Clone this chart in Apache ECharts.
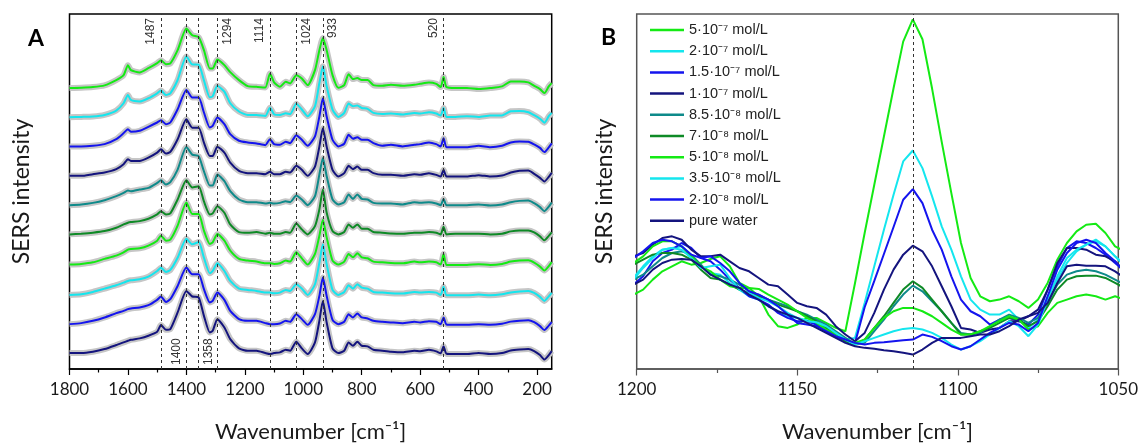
<!DOCTYPE html>
<html><head><meta charset="utf-8">
<script src="https://cdn.jsdelivr.net/npm/echarts@6/dist/echarts.min.js"></script>
<style>html,body{margin:0;padding:0;background:#fff}#c{width:1142px;height:448px}</style>
</head><body><div id="c"></div>
<script>
// ---------- Panel A data ----------
const wavenumbersA = [1800,1760,1720,1680,1640,1615,1600,1590,1560,1530,1500,1487,1470,1455,1430,1400,1380,1358,1340,1320,1310,1294,1270,1250,1220,1190,1160,1130,1114,1100,1080,1060,1045,1024,1005,985,960,945,933,920,900,880,860,845,830,815,800,780,760,730,700,660,620,600,570,545,530,520,510,480,440,400,360,320,290,260,230,210,190,175,160,150];
// vertical stacking offset of each spectrum (arbitrary units)
const offsetsA = [281.7,252.5,223.2,193.7,164.3,135,104.7,74.3,45,16];
const specA_5e7 = [0,0.3,1,2.7,8,13,23,18,15.7,20, 25,28,24,24.7,38,59.7,53,51,38,19.7, 19.7,28.7,23,16,8,2,1.3,0.7,14.7,5.7, 1.3,6.3,4.7,13,9.7,3,18,38,50.3,38, 13,0.3,3,14,9,10,8,8,3,2.3, 3.3,2.3,3.3,4.3,5.7,4.3,1,11,1,0, 0,-1,0,1.7,6.7,6.7,5.7,2.3,-1,-5,1.7,5];
const specA_2e7 = [0,0.3,0.7,2.3,6.7,14,22.3,17.3,15.7,19, 24,26.7,22.3,24,37.3,61,53,52.7,37,20, 21,31.5,25.7,14,5.7,2.3,2.3,1.3,9.5,3, 2.3,4,3,13.5,7.7,1,11,34.3,51,31, 7.7,0.3,4.3,13.7,11,11.7,9.3,8.3,4.3,3.3, 3.7,2.7,4.3,3.7,5,3.7,1.7,9.3,0.3,0.3, 1,0.3,1.7,1.7,6,6.3,5,2,-1.5,-5.5,1,4.3];
const specA_15e7 = [0,0,0.7,2.3,7.3,13.3,17.3,14.7,15.7,19.7, 24,26.3,22.3,24,37.3,56.7,49,49,34,19, 20.7,29,22.3,12.3,5.7,4,3,1.3,7.3,2.3, 1.7,4.7,3.3,11.3,6.7,0.7,10,30,48.3,30, 6.7,0,2.7,11.7,7.7,9.3,6.7,6.7,3.3,0.7, 1.7,0,1.7,2.3,4,2.3,0,8.3,-0.7,-0.7, -0.7,0.7,-0.7,0.7,4,5,4.7,2,-1.5,-5.7,-1,3];
const specA_1e7 = [0,0,1.7,3.3,6.7,11.7,16.7,15,15,18.3, 23.3,26.7,22.3,24,36.7,56.7,48.3,48.3,33.3,20, 20,29.3,23.3,13.3,5,2.7,2.7,1.7,4,1.7, 1.7,4,3.3,10,6,0,9.3,29.3,47.7,29.3, 6,-0.7,2.7,10,6.7,9.3,6,6,2.7,1, 1,0,1.7,1,2.7,1,-0.7,6,-0.7,-0.7, -0.7,0.7,-0.7,0.3,3.3,5,5.3,2,-2,-5.7,-1,3];
const specA_85e8 = [0,0.7,2.3,5,9,12.3,14.7,14,15.7,17.3, 22.3,25,20.7,23,35.7,58.3,50.7,49,34,19.7, 19.7,30.7,24,14,5.7,3,3,1.7,2.3,1.7, 2.3,4,3,9.7,5.7,0,9,30.7,47.3,29, 5.7,0.7,3,10.7,6.3,10.7,6.3,5.7,2.3,1.7, 1.7,0.7,3,2.3,3,1.7,0,6.3,0,0, 0,0.7,-0.3,0.7,3,4.3,4.7,2,-2,-6,-1.5,2.5];
const specA_7e8 = [0,0.7,1.7,3.3,6.7,10,11.7,12.3,13.3,15.7, 20,23.3,20,21,35,54.3,47,48.3,33,20, 21,28.3,21.7,10,2.3,1.7,2.3,0.7,1.7,0.7, 0.7,2.3,1.7,11,5,0,8.3,25,45,21.7, 3.3,0,2.3,10,6.7,10,5.7,5.7,2.3,1.7, 1,0.7,1.7,1.7,2.3,1.7,0,7.7,0,0.7, 0.7,0.7,0,0.7,3,4,4,2,-2,-6,-1.5,2];
const specA_5e8 = [0,0.7,2.3,5.7,9,12.3,15,15.7,16.3,19, 24,29,24,25,39,62.3,50.7,50.7,34,20.7, 22.3,30.7,24,14,5.7,4,3,1.3,1.3,0.7, 1.3,4,3,12.3,6.3,0,10.7,29,45,27.3, 4,0,3,10.7,7.3,11.3,7.3,6.3,3,2.3, 1.7,1.3,3,2.3,3,2.3,0,10.7,-0.3,-0.3, -0.3,0.3,-0.3,0.7,3,4,4.3,2,-2,-6,-1.5,2.5];
const specA_35e8 = [0,0.7,3,6.3,9.7,12.3,14,14.7,15.7,18.3, 24,27.3,23,25,37.3,56.3,50.7,53,37.3,21.7, 24,31.7,24,14,6.3,5,4,2.3,2.3,1.7, 2.3,5,4,10.7,6.3,0,10.7,32.3,50.7,30.7, 5,0,3,9.7,6.3,10.7,7.3,6.3,3,2.3, 1.7,1.3,3,2.3,3,2.3,0,8.3,-0.3,-0.3, -0.3,0.3,-0.3,0.7,2.5,3.5,4,2,-2,-6,-1.5,2];
const specA_2e8 = [0,1,3.3,6.7,11,13.3,15,15.7,16.7,19, 24.3,27.7,22.3,25,38.3,56.7,50,50,35,21.7, 23.3,31.7,24.3,13.3,5,3.3,3.3,1,0,0, 0.7,3.3,2.3,10,5,-0.7,10,28.3,46.7,28.3, 4.3,0,2.3,10,6.7,10.7,6.7,5.7,3.3,2.3, 1.7,1,2.3,1.7,3,2.3,0,6.7,-0.3,-0.7, -0.7,0,-0.7,0.3,2.5,3.5,4,2,-2,-6,-1.5,2];
const specA_water = [0,0,1.3,4,8,10.7,12.3,13.3,14.7,17.3, 21.3,28,23.3,24,40.7,62.3,56.7,55.7,37.3,20.7, 22.3,34,25.7,14,4.7,2.3,2.3,0,-1,0, 0.7,3.3,2.3,11.3,4.7,-1,10.7,32.3,52.3,30.7, 4.7,0,2.3,10.7,7.3,11.3,7.3,6.7,3.3,2.3, 1.3,0.7,2.3,1.7,3.3,1.7,-0.3,6.7,-0.7,-1, -1,0,-1,0,2.5,3.5,4,2,-2,-6.5,-2,2];
const aTickLabels = [1800,1600,1400,1200,1000,800,600,400,200];
const aMinorTicks = [1700,1500,1300,1100,900,700,500,300];
const peakLines = [1487,1400,1358,1294,1114,1024,933,520];

// ---------- Panel B data ----------
const wavenumbersB = [1201,1198,1195,1192,1189,1186,1183,1180,1177,1174,1171,1168,1165,1162,1159,1156,1153,1150,1147,1144,1141,1138,1135,1132,1129,1126,1123,1120,1117,1114,1111,1108,1105,1102,1099,1096,1093,1090,1087,1084,1081,1078,1075,1072,1069,1066,1063,1060,1057,1054,1051,1048];
const specB_5e7 = [215,230,260,285,300,315,305,310,322,330, 300,250,235,210,155,120,115,125,145,145, 130,115,105,250,400,545,690,835,975,1042, 982,834,674,520,370,265,210,195,200,210, 195,175,200,250,320,370,405,425,428,400, 360,345];
const specB_2e7 = [265,300,330,350,355,360,335,300,280,275, 250,230,210,200,180,165,150,145,138,125, 105,90,80,85,190,300,410,515,615,648, 595,510,420,350,270,200,170,155,155,170, 140,115,140,210,260,310,345,365,375,360, 330,300];
const specB_15e7 = [245,270,315,340,350,370,355,325,315,290, 260,235,210,200,185,160,145,135,135,125, 105,90,75,70,177,256,337,418,500,532, 490,410,350,270,200,165,150,125,140,145, 135,125,155,230,300,355,375,370,355,335, 310,285];
const specB_1e7 = [330,340,365,385,390,380,350,330,330,335, 315,295,285,265,245,240,215,190,180,175, 155,120,95,75,100,160,230,290,335,362, 345,300,240,180,115,110,100,110,115,135, 135,150,170,230,310,355,355,350,335,330, 315,285];
const specB_85e8 = [260,275,300,325,340,345,335,305,275,270, 260,245,225,215,200,190,180,165,155,140, 125,105,85,65,70,105,140,180,215,242, 225,195,165,130,100,95,100,120,140,155, 145,130,145,190,245,275,285,290,285,275, 260,245];
const specB_7e8 = [305,320,335,340,340,335,320,290,265,260, 245,230,220,210,200,185,175,165,150,135, 115,95,75,65,80,115,150,190,230,255, 235,200,165,130,95,95,105,115,130,145, 140,120,135,180,230,260,270,272,272,265, 250,235];
const specB_5e8 = [310,330,360,375,375,360,330,300,285,260, 240,235,235,232,215,200,185,165,145,130, 110,95,80,70,80,115,145,165,175,175, 165,150,130,110,95,95,105,120,135,150, 140,110,120,160,190,200,210,215,210,200, 210,200];
const specB_35e8 = [260,295,325,350,355,350,325,295,300,305, 265,230,220,205,195,180,160,145,135,132, 120,100,80,65,75,85,95,105,112,115, 110,100,85,65,50,60,75,95,115,135, 120,90,125,200,270,325,350,365,380,360, 330,305];
const specB_2e8 = [325,345,370,380,375,360,335,325,330,310, 285,250,225,215,200,180,155,130,125,120, 105,90,80,70,65,70,72,75,78,80, 95,88,75,60,50,60,80,100,115,130, 125,105,130,210,290,340,370,380,370,340, 315,280];
const specB_water = [245,260,290,310,320,322,320,300,275,260, 245,235,215,200,180,165,155,145,130,115, 100,85,70,60,55,52,48,45,40,35, 50,70,85,85,85,90,95,95,105,120, 140,150,160,190,250,300,305,302,302,300, 285,265];
const bTickLabels = [1200,1150,1100,1050];
const bMinorTicks = [1175,1125,1075];
const bPeakLine = [1114];

const seriesNames = ['5·10⁻⁷ mol/L','2·10⁻⁷ mol/L','1.5·10⁻⁷ mol/L','1·10⁻⁷ mol/L','8.5·10⁻⁸ mol/L','7·10⁻⁸ mol/L','5·10⁻⁸ mol/L','3.5·10⁻⁸ mol/L','2·10⁻⁸ mol/L','pure water'];

// ---------- styling ----------
const colors = ['#14ea14','#14e6ee','#1414ee','#14147e','#0e8a8a','#0e8a26','#14ea14','#14e6ee','#1414ee','#14147e'];
const spectraA = [specA_5e7,specA_2e7,specA_15e7,specA_1e7,specA_85e8,specA_7e8,specA_5e8,specA_35e8,specA_2e8,specA_water];
const spectraB = [specB_5e7,specB_2e7,specB_15e7,specB_1e7,specB_85e8,specB_7e8,specB_5e8,specB_35e8,specB_2e8,specB_water];
const labelSide = {1487:'insideEndTop',1400:'insideStartTop',1358:'insideStartBottom',1294:'insideEndBottom',1114:'insideEndTop',1024:'insideEndBottom',933:'insideEndBottom',520:'insideEndTop'};
const FONT = 'Lato, "Open Sans", sans-serif';
const TXT = '#1a1a1a';
const plain = v => String(v);

const series = [];
spectraA.forEach((arr, j) => {
  const s = {
    type:'line', name:'bandA'+j, xAxisIndex:0, yAxisIndex:0, symbol:'none', smooth:0.2,
    data: wavenumbersA.map((w,i)=>[w, offsetsA[j] + arr[i]]),
    lineStyle:{color:'#c6c6c6', width:6}, itemStyle:{color:'#c6c6c6'}, z:1, silent:true, animation:false
  };
  if (j === 0) {
    s.markLine = {
      silent:true, symbol:['none','none'], animation:false,
      lineStyle:{type:[3,3], color:'#333', width:1},
      label:{fontFamily:'"Liberation Sans", Arial, sans-serif', fontSize:12, color:'#333', distance:4},
      data: peakLines.map(v => ({xAxis:v, label:{formatter:String(v), position:labelSide[v]}}))
    };
  }
  series.push(s);
});
spectraA.forEach((arr, j) => {
  series.push({
    type:'line', name:'A '+seriesNames[j], xAxisIndex:0, yAxisIndex:0, symbol:'none', smooth:0.2,
    data: wavenumbersA.map((w,i)=>[w, offsetsA[j] + arr[i]]),
    color: colors[j], lineStyle:{color:colors[j], width:2}, z:3, silent:true, animation:false
  });
});
spectraB.forEach((arr, j) => {
  const s = {
    type:'line', name:seriesNames[j], xAxisIndex:2, yAxisIndex:1, symbol:'none',
    data: wavenumbersB.map((w,i)=>[w, arr[i]]),
    color: colors[j], lineStyle:{color:colors[j], width:2}, z:3, silent:true, animation:false
  };
  if (j === 0) {
    s.markLine = {
      silent:true, symbol:['none','none'], animation:false, label:{show:false},
      lineStyle:{type:[3,3], color:'#333', width:1},
      data: bPeakLine.map(v => ({xAxis:v}))
    };
  }
  series.push(s);
});

const option = {
  animation:false,
  backgroundColor:'#fff',
  grid:[
    {left:69.5, top:14, width:482.2, height:356, show:true, borderColor:'#000', borderWidth:1.5, containLabel:false},
    {left:636.7, top:14, width:481.6, height:355.5, show:true, borderColor:'#555', borderWidth:1.5, containLabel:false}
  ],
  xAxis:[
    {gridIndex:0, type:'value', inverse:true, min:150, max:1800, position:'bottom',
     axisLine:{show:true, onZero:false, lineStyle:{color:'#000', width:1.5}},
     axisTick:{show:true, customValues:aTickLabels, length:6, lineStyle:{color:'#000', width:1.2}},
     axisLabel:{customValues:aTickLabels, formatter:plain, fontFamily:FONT, fontSize:17, color:TXT, margin:12},
     splitLine:{show:false},
     name:'Wavenumber [cm⁻¹]', nameLocation:'middle', nameGap:52,
     nameTextStyle:{fontFamily:FONT, fontSize:22, color:TXT}},
    {gridIndex:0, type:'value', inverse:true, min:150, max:1800, position:'bottom', offset:0,
     axisLine:{show:false, onZero:false}, axisLabel:{show:false}, splitLine:{show:false},
     axisTick:{show:true, customValues:aMinorTicks, length:3.5, lineStyle:{color:'#000', width:1.2}}},
    {gridIndex:1, type:'value', inverse:true, min:1050, max:1200, interval:50, position:'bottom',
     axisLine:{show:true, onZero:false, lineStyle:{color:'#555', width:1.5}},
     axisTick:{show:true, customValues:bTickLabels, length:6.5, lineStyle:{color:'#555', width:1.2}},
     axisLabel:{customValues:bTickLabels, formatter:plain, fontFamily:FONT, fontSize:17, color:TXT, margin:12},
     splitLine:{show:false},
     name:'Wavenumber [cm⁻¹]', nameLocation:'middle', nameGap:52,
     nameTextStyle:{fontFamily:FONT, fontSize:22, color:TXT}},
    {gridIndex:1, type:'value', inverse:true, min:1050, max:1200, position:'bottom', offset:0,
     axisLine:{show:false, onZero:false}, axisLabel:{show:false}, splitLine:{show:false},
     axisTick:{show:true, customValues:bMinorTicks, length:4, lineStyle:{color:'#555', width:1.2}}}
  ],
  yAxis:[
    {gridIndex:0, type:'value', min:0, max:356, axisLine:{show:false, onZero:false}, axisTick:{show:false},
     axisLabel:{show:false}, splitLine:{show:false},
     name:'SERS intensity', nameLocation:'middle', nameGap:36,
     nameTextStyle:{fontFamily:FONT, fontSize:23, color:TXT}},
    {gridIndex:1, type:'value', min:-8.5, max:1058, axisLine:{show:false, onZero:false}, axisTick:{show:false},
     axisLabel:{show:false}, splitLine:{show:false},
     name:'SERS intensity', nameLocation:'middle', nameGap:21,
     nameTextStyle:{fontFamily:FONT, fontSize:23, color:TXT}}
  ],
  legend:{
    data:seriesNames, orient:'vertical', left:645, top:17.5, icon:'rect',
    itemWidth:34, itemHeight:2.5, itemGap:6.2, selectedMode:false,
    textStyle:{fontFamily:'"Liberation Sans", Arial, sans-serif', fontSize:14.5, color:'#222', lineHeight:15}
  },
  graphic:[
    {type:'text', left:28, top:27, style:{text:'A', font:'bold 23px Lato, sans-serif', fill:'#000'}},
    {type:'text', left:601, top:26, style:{text:'B', font:'bold 23px Lato, sans-serif', fill:'#000'}}
  ],
  series
};
const chart = echarts.init(document.getElementById('c'));
chart.setOption(option);
</script>
</body></html>
